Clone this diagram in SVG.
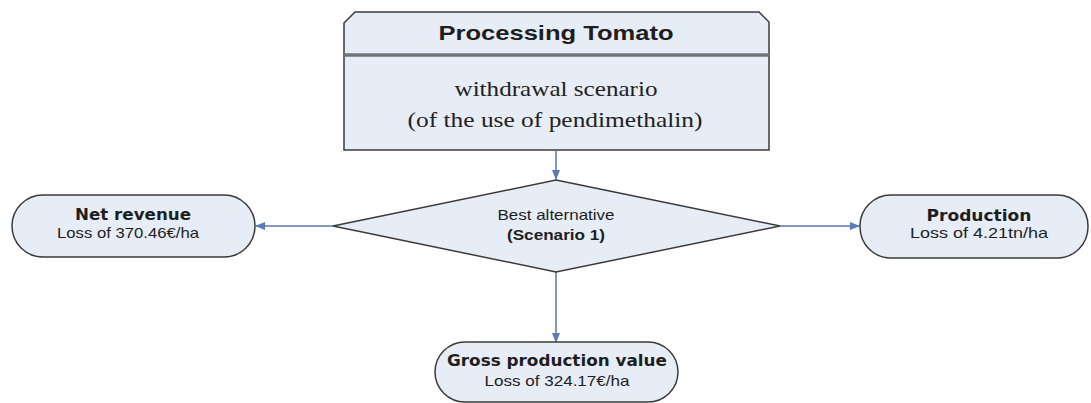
<svg xmlns="http://www.w3.org/2000/svg" width="1091" height="403" viewBox="0 0 1091 403">
<style>
.shape{fill:#e7edf7;stroke:#3a3a3a;stroke-width:1.5}
.conn{stroke:#8299c4;stroke-width:2;fill:none}
.t{font-family:"Liberation Sans",Arial,sans-serif;fill:#1e1e1e;text-anchor:middle}
.b{font-family:"DejaVu Sans",Verdana,sans-serif;font-weight:bold;fill:#1e1e1e;text-anchor:middle}
.s{font-family:"Liberation Serif","Times New Roman",serif;fill:#222;text-anchor:middle}
</style>
<defs>
<marker id="ah" markerWidth="10" markerHeight="10" refX="9" refY="5" orient="auto" markerUnits="userSpaceOnUse">
<path d="M0,1 L10,5 L0,9 Z" fill="#5b78b8"/>
</marker>
</defs>
<rect width="1091" height="403" fill="#ffffff"/>
<g id="connectors">
<line class="conn" x1="556" y1="151" x2="556" y2="179" marker-end="url(#ah)"/>
<line class="conn" x1="334" y1="226" x2="256" y2="226" marker-end="url(#ah)"/>
<line class="conn" x1="780" y1="226" x2="859" y2="226" marker-end="url(#ah)"/>
<line class="conn" x1="556" y1="272" x2="556" y2="342" marker-end="url(#ah)"/>
</g>
<g id="processing-tomato">
<path class="shape" d="M355,12 L759,12 L769,22 L769,150 L344,150 L344,23 Z"/>
<line x1="344" y1="55" x2="769" y2="55" stroke="#6e7478" stroke-width="3.5"/>
<text class="t" x="556" y="40" font-size="21" font-weight="bold" textLength="235" lengthAdjust="spacingAndGlyphs">Processing Tomato</text>
<text class="s" x="556" y="96" font-size="22" textLength="203" lengthAdjust="spacingAndGlyphs">withdrawal scenario</text>
<text class="s" x="555" y="127" font-size="22" textLength="295" lengthAdjust="spacingAndGlyphs">(of the use of pendimethalin)</text>
</g>
<g id="best-alternative">
<path class="shape" d="M556,180 L780,226 L556,272 L333,226 Z"/>
<text class="t" x="556" y="220" font-size="15" textLength="117" lengthAdjust="spacingAndGlyphs">Best alternative</text>
<text class="t" x="556" y="240" font-size="15" font-weight="bold" textLength="98" lengthAdjust="spacingAndGlyphs">(Scenario 1)</text>
</g>
<g id="net-revenue">
<rect class="shape" x="12" y="195" width="243" height="62" rx="31" ry="31"/>
<text class="b" x="133" y="220" font-size="15" textLength="116" lengthAdjust="spacingAndGlyphs">Net revenue</text>
<text class="t" x="128" y="238" font-size="15" textLength="142" lengthAdjust="spacingAndGlyphs">Loss of 370.46€/ha</text>
</g>
<g id="production">
<rect class="shape" x="860" y="195" width="228" height="63" rx="31" ry="31"/>
<text class="b" x="979" y="221" font-size="15" textLength="105" lengthAdjust="spacingAndGlyphs">Production</text>
<text class="t" x="979" y="238" font-size="15" textLength="138" lengthAdjust="spacingAndGlyphs">Loss of 4.21tn/ha</text>
</g>
<g id="gross-production-value">
<rect class="shape" x="435" y="342" width="243" height="60" rx="30" ry="30"/>
<text class="b" x="557" y="366" font-size="15" textLength="220" lengthAdjust="spacingAndGlyphs">Gross production value</text>
<text class="t" x="557" y="386" font-size="15" textLength="145" lengthAdjust="spacingAndGlyphs">Loss of 324.17€/ha</text>
</g>
</svg>
